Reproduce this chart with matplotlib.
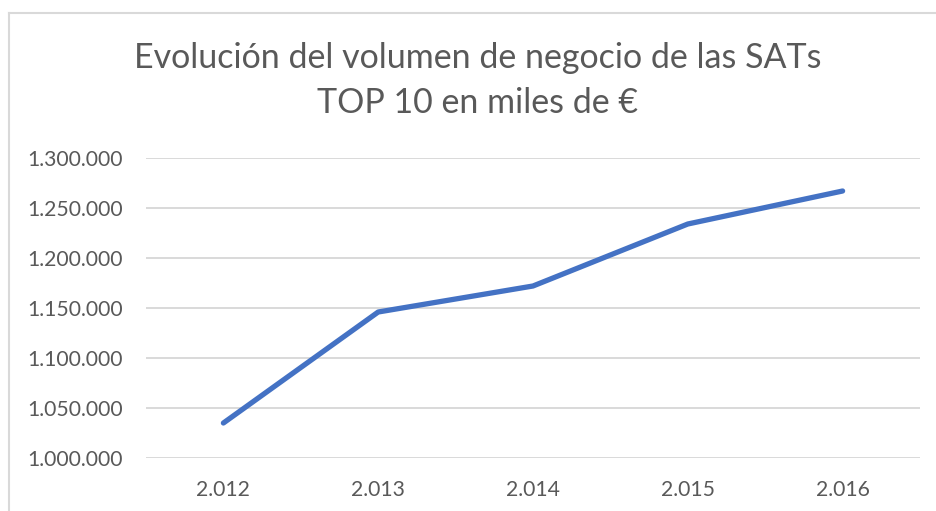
import matplotlib
matplotlib.use("Agg")
import matplotlib.pyplot as plt
from matplotlib.lines import Line2D

years = ["2.012", "2.013", "2.014", "2.015", "2.016"]
values = [1035000, 1146000, 1172000, 1234000, 1267000]
yticks = [1000000, 1050000, 1100000, 1150000, 1200000, 1250000, 1300000]
ytick_labels = ["1.000.000", "1.050.000", "1.100.000", "1.150.000", "1.200.000", "1.250.000", "1.300.000"]
title_lines = ["Evolución del volumen de negocio de las SATs", "TOP 10 en miles de €"]

plt.rcParams['font.family'] = ['Lato', 'DejaVu Sans']
W, H = 936, 511
fig = plt.figure(figsize=(W/100, H/100), dpi=100)
ax = fig.add_axes([146/W, (H-458)/H, (920-146)/W, 300/H])

x = list(range(len(years)))
ax.plot(x, values, color="#4472C4", lw=3.8, solid_capstyle="round", solid_joinstyle="round", zorder=3)
ax.set_xlim(-0.5, len(years)-0.5)
ax.set_ylim(1000000, 1300000)
ax.set_yticks(yticks)
ax.set_yticklabels(ytick_labels)
ax.set_xticks(x)
ax.set_xticklabels(years)
ax.grid(axis="y", color="#D9D9D9", lw=1.4)
ax.set_axisbelow(True)
for s in ax.spines.values():
    s.set_visible(False)
ax.tick_params(axis="both", length=0, colors="#595959", labelsize=15.2)
ax.tick_params(axis="y", pad=16.5)
ax.tick_params(axis="x", pad=16)

for txt, base in zip(title_lines, [68, 113]):
    fig.text(478/W, (H-base)/H, txt, ha="center", va="baseline", fontsize=24.5, color="#595959")

# chart border
fig.add_artist(Line2D([9/W, 9/W], [0, (H-13)/H], color="#D9D9D9", lw=1.5, transform=fig.transFigure))
fig.add_artist(Line2D([9/W, 1], [(H-13)/H, (H-13)/H], color="#D9D9D9", lw=1.5, transform=fig.transFigure))

fig.savefig("out.png", dpi=100)
